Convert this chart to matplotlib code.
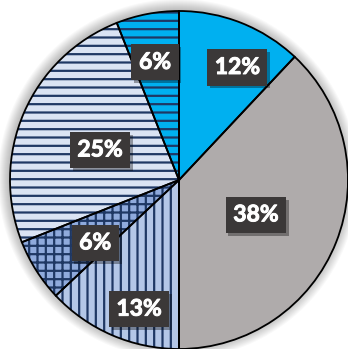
import matplotlib
matplotlib.use("Agg")
import matplotlib.pyplot as plt
import matplotlib.patheffects as pe
from matplotlib.patches import Circle
import numpy as np

# slice data, clockwise from 12 o'clock
shares = [12, 38, 13, 6, 25, 6]
labels = ["12%", "38%", "13%", "6%", "25%", "6%"]
face_colors = ["#00B0F0", "#AFABAB", "#B4C7E7", "#8FAADC", "#DAE3F3", "#00B0F0"]
hatches = [None, None, "||", "++", "--", "--"]

# label placement (fraction of radius, angle in degrees)
label_r = [0.75, 0.50, 0.80, 0.62, 0.50, 0.71]
label_ang = [62.6, -24.4, -107.2, -143.1, 159.2, 101.5]

W, H = 348, 349
cx, cy, R = 179, H - 180, 169

plt.rcParams["hatch.linewidth"] = 1.6
fig = plt.figure(figsize=(W / 100, H / 100), dpi=100)
ax = fig.add_axes([0, 0, 1, 1])

# soft shadow behind the pie
for k in range(1, 12):
    ax.add_patch(Circle((cx - 1, cy + 1), R + k, color="black", alpha=0.025, lw=0, zorder=0))

# fill + hatch layer
wedges, _ = ax.pie(shares, colors=face_colors, startangle=90, counterclock=False,
                   center=(cx, cy), radius=R, frame=True,
                   wedgeprops=dict(linewidth=0, edgecolor="#1F3864"))
for w, h in zip(wedges, hatches):
    w.set_zorder(2)
    if h:
        w.set_hatch(h)

# outline layer
outl, _ = ax.pie(shares, colors=["none"] * len(shares), startangle=90, counterclock=False,
                 center=(cx, cy), radius=R, frame=True,
                 wedgeprops=dict(linewidth=1.3, edgecolor="black", fill=False))
for w in outl:
    w.set_zorder(3)

ax.set_xlim(0, W)
ax.set_ylim(0, H)
ax.set_aspect("equal")
ax.axis("off")

for lab, r, a in zip(labels, label_r, label_ang):
    x = cx + r * R * np.cos(np.radians(a))
    y = cy + r * R * np.sin(np.radians(a))
    t = ax.text(x, y, lab, ha="center", va="center", color="white",
                fontsize=16.5, fontweight="bold", family=["Lato", "DejaVu Sans"], zorder=5,
                path_effects=[pe.withStroke(linewidth=0.7, foreground="white")],
                bbox=dict(boxstyle="square,pad=0.33", facecolor="#3B3838", edgecolor="none"))
    t.get_bbox_patch().set_path_effects([
        pe.SimplePatchShadow(offset=(2, -2), shadow_rgbFace="black", alpha=0.35),
        pe.Normal()])

fig.savefig("out.png", dpi=100)
